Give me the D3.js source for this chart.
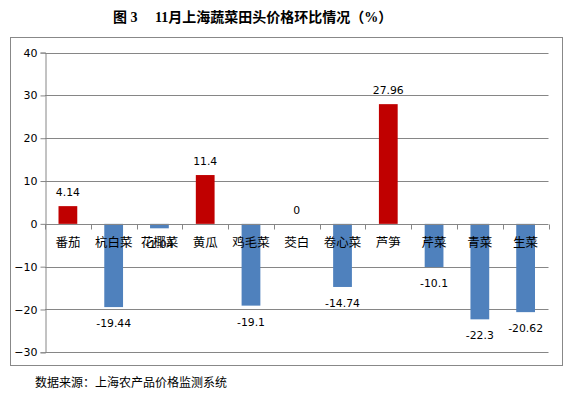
<!DOCTYPE html>
<html><head><meta charset="utf-8">
<script src="https://cdn.jsdelivr.net/npm/d3@7"></script>
<style>body{margin:0;background:#fff}</style>
</head><body>
<svg id="c" width="575" height="397"></svg>
<script>
const categories = ["番茄","杭白菜","花椰菜","黄瓜","鸡毛菜","茭白","卷心菜","芦笋","芹菜","青菜","生菜"];
const values = [4.14,-19.44,-1.04,11.4,-19.1,0,-14.74,27.96,-10.1,-22.3,-20.62];
const yTicks = [-30,-20,-10,0,10,20,30,40];
const title = "图 3　 11月上海蔬菜田头价格环比情况（%）";
const source = "数据来源：上海农产品价格监测系统";

const svg = d3.select("#c");
const L = 45, R = 548.5, T = 52.6, B = 352.3;
const x = d3.scaleBand().domain(categories).range([L, R]).paddingInner(0.59).paddingOuter(0.295);
const band = d3.scaleBand().domain(categories).range([L, R]);
const y = d3.scaleLinear().domain([-30, 40]).range([B, T]);

svg.append("rect").attr("x", 10.5).attr("y", 37.5).attr("width", 552).attr("height", 328)
  .attr("fill", "#fff").attr("stroke", "#888").attr("stroke-width", 1);

svg.append("text").attr("x", 113).attr("y", 22).attr("font-family", "Liberation Serif, Noto Sans CJK SC")
  .attr("font-weight", "bold").attr("font-size", 14).attr("fill", "#000").text(title);

// gridlines
svg.append("g").selectAll("line").data(yTicks.filter(d => d !== 0)).join("line")
  .attr("x1", L).attr("x2", R).attr("y1", d => Math.round(y(d)) + 0.5).attr("y2", d => Math.round(y(d)) + 0.5)
  .attr("stroke", "#868686").attr("stroke-width", 1);

// y axis
const ya = svg.append("g").attr("transform", `translate(${L + 0.5},0)`)
  .call(d3.axisLeft(y).tickValues(yTicks).tickSize(5).tickPadding(3));
ya.select(".domain").attr("stroke", "#868686");
ya.selectAll(".tick line").attr("stroke", "#868686");
ya.selectAll(".tick text").attr("font-family", "DejaVu Sans").attr("font-size", 11).attr("fill", "#000");

// bars
svg.append("g").selectAll("rect").data(values).join("rect")
  .attr("x", (d, i) => x(categories[i])).attr("width", x.bandwidth())
  .attr("y", d => y(Math.max(0, d))).attr("height", d => Math.abs(y(d) - y(0)))
  .attr("fill", d => d > 0 ? "#C00000" : "#4F81BD");

// zero axis
const y0 = Math.round(y(0)) + 0.5;
svg.append("line").attr("x1", L).attr("x2", R).attr("y1", y0).attr("y2", y0).attr("stroke", "#868686");
svg.append("g").selectAll("line").data(categories.concat(["_end"])).join("line")
  .attr("x1", (d, i) => Math.round(L + i * band.step()) + 0.5).attr("x2", (d, i) => Math.round(L + i * band.step()) + 0.5)
  .attr("y1", y0).attr("y2", y0 + 5).attr("stroke", "#868686");

// category labels
svg.append("g").selectAll("text").data(categories).join("text")
  .attr("x", d => band(d) + band.bandwidth() / 2).attr("y", y0 + 22)
  .attr("text-anchor", "middle").attr("font-family", "Noto Sans CJK SC").attr("font-size", 12.5)
  .attr("fill", "#000").text(d => d);

// value labels
svg.append("g").selectAll("text").data(values).join("text")
  .attr("x", (d, i) => band(categories[i]) + band.bandwidth() / 2)
  .attr("y", d => d >= 0 ? y(d) - 10 : y(d) + 20)
  .attr("text-anchor", "middle").attr("font-family", "DejaVu Sans").attr("font-size", 10.8)
  .attr("fill", "#000").text(d => String(d));

svg.append("text").attr("x", 35).attr("y", 387).attr("font-family", "Noto Sans CJK SC")
  .attr("font-size", 12).attr("fill", "#000").text(source);
</script>
</body></html>
